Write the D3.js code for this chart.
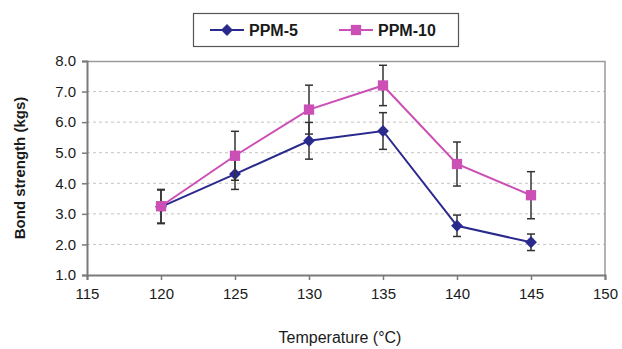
<!DOCTYPE html>
<html>
<head>
<meta charset="utf-8">
<script src="https://d3js.org/d3.v7.min.js"></script>
<style>
  body { margin: 0; background: #fff; }
  svg { font-family: "Liberation Sans", Arial, sans-serif; }
</style>
</head>
<body>
<div id="chart"></div>
<script>
var temps = [120, 125, 130, 135, 140, 145];
var ppm5 = [3.23, 4.30, 5.39, 5.71, 2.61, 2.07];
var ppm5Err = [0.55, 0.50, 0.60, 0.60, 0.35, 0.27];
var ppm10 = [3.25, 4.90, 6.41, 7.20, 4.63, 3.61];
var ppm10Err = [0.55, 0.80, 0.80, 0.66, 0.72, 0.77];
var xTicks = [115, 120, 125, 130, 135, 140, 145, 150];
var yTicks = [1, 2, 3, 4, 5, 6, 7, 8];

var series = [
    { name: "PPM-5", values: ppm5, err: ppm5Err, color: "#2a2a8e", shape: d3.symbolDiamond2, size: 90 },
    { name: "PPM-10", values: ppm10, err: ppm10Err, color: "#cc4fb6", shape: d3.symbolSquare2, size: 135 }
];

var width = 622, height = 349;
var margin = { top: 61, right: 17, bottom: 74, left: 87 };
var w = width - margin.left - margin.right;
var h = height - margin.top - margin.bottom;

var svg = d3.select("#chart").append("svg")
    .attr("width", width)
    .attr("height", height);

var g = svg.append("g")
    .attr("transform", "translate(" + margin.left + "," + margin.top + ")");

var x = d3.scaleLinear().domain([115, 150]).range([0, w]);
var y = d3.scaleLinear().domain([1, 8]).range([h, 0]);

// gridlines
g.selectAll(".grid")
    .data(yTicks.filter(function(d) { return d > 1 && d < 8; }))
    .enter().append("line")
    .attr("x1", 0).attr("x2", w)
    .attr("y1", function(d) { return y(d); })
    .attr("y2", function(d) { return y(d); })
    .style("stroke", "#c4c4c4")
    .style("stroke-width", 1)
    .style("stroke-dasharray", "3,3");

// frame top/right
g.append("path")
    .attr("d", "M0,0.5H" + w + "V" + h)
    .style("fill", "none")
    .style("stroke", "#9a9a9a")
    .style("stroke-width", 1.5);

// axes
var xAxis = g.append("g")
    .attr("transform", "translate(0," + h + ")")
    .call(d3.axisBottom(x).tickValues(xTicks).tickSize(5).tickPadding(8).tickFormat(d3.format("d")));
var yAxis = g.append("g")
    .call(d3.axisLeft(y).tickValues(yTicks).tickSize(5).tickPadding(6).tickFormat(d3.format(".1f")));

[xAxis, yAxis].forEach(function(a) {
    a.select(".domain").style("stroke", "#7a7a7a").style("stroke-width", 2);
    a.selectAll(".tick line").style("stroke", "#7a7a7a").style("stroke-width", 1.5);
    a.selectAll("text").style("font-size", "15px").style("fill", "#1a1a1a");
});

// axis titles
svg.append("text")
    .attr("x", 340)
    .attr("y", 343)
    .attr("text-anchor", "middle")
    .style("font-size", "16px")
    .style("fill", "#1a1a1a")
    .text("Temperature (°C)");

svg.append("text")
    .attr("transform", "translate(25," + (margin.top + h / 2) + ") rotate(-90)")
    .attr("text-anchor", "middle")
    .style("font-size", "15px")
    .style("font-weight", "bold")
    .style("fill", "#1a1a1a")
    .text("Bond strength (kgs)");

var line = d3.line()
    .x(function(d) { return x(d.t); })
    .y(function(d) { return y(d.v); });

series.forEach(function(s) {
    var pts = temps.map(function(t, i) { return { t: t, v: s.values[i], e: s.err[i] }; });

    g.append("path")
        .datum(pts)
        .attr("d", line)
        .style("fill", "none")
        .style("stroke", s.color)
        .style("stroke-width", 2);

    var eb = g.append("g").selectAll("g").data(pts).enter().append("g");
    eb.append("line")
        .attr("x1", function(d) { return x(d.t); })
        .attr("x2", function(d) { return x(d.t); })
        .attr("y1", function(d) { return y(d.v + d.e); })
        .attr("y2", function(d) { return y(d.v - d.e); })
        .style("stroke", "#333").style("stroke-width", 1.5);
    [1, -1].forEach(function(sign) {
        eb.append("line")
            .attr("x1", function(d) { return x(d.t) - 4; })
            .attr("x2", function(d) { return x(d.t) + 4; })
            .attr("y1", function(d) { return y(d.v + sign * d.e); })
            .attr("y2", function(d) { return y(d.v + sign * d.e); })
            .style("stroke", "#333").style("stroke-width", 1.5);
    });

    g.append("g").selectAll("path").data(pts).enter().append("path")
        .attr("transform", function(d) { return "translate(" + x(d.t) + "," + y(d.v) + ")"; })
        .attr("d", d3.symbol().type(s.shape).size(s.size))
        .style("fill", s.color);
});

// legend
var lg = svg.append("g");
lg.append("rect")
    .attr("x", 193.5).attr("y", 13.5)
    .attr("width", 265).attr("height", 33)
    .style("fill", "#fff")
    .style("stroke", "#555")
    .style("stroke-width", 1.2);

var legX = [210, 339];
series.forEach(function(s, i) {
    var lx = legX[i];
    lg.append("line")
        .attr("x1", lx).attr("x2", lx + 34)
        .attr("y1", 30).attr("y2", 30)
        .style("stroke", s.color).style("stroke-width", 2);
    lg.append("path")
        .attr("transform", "translate(" + (lx + 17) + ",30)")
        .attr("d", d3.symbol().type(s.shape).size(s.size))
        .style("fill", s.color);
    lg.append("text")
        .attr("x", lx + 39).attr("y", 35.5)
        .style("font-size", "16px")
        .style("font-weight", "bold")
        .style("fill", "#1a1a1a")
        .text(s.name);
});
</script>
</body>
</html>
